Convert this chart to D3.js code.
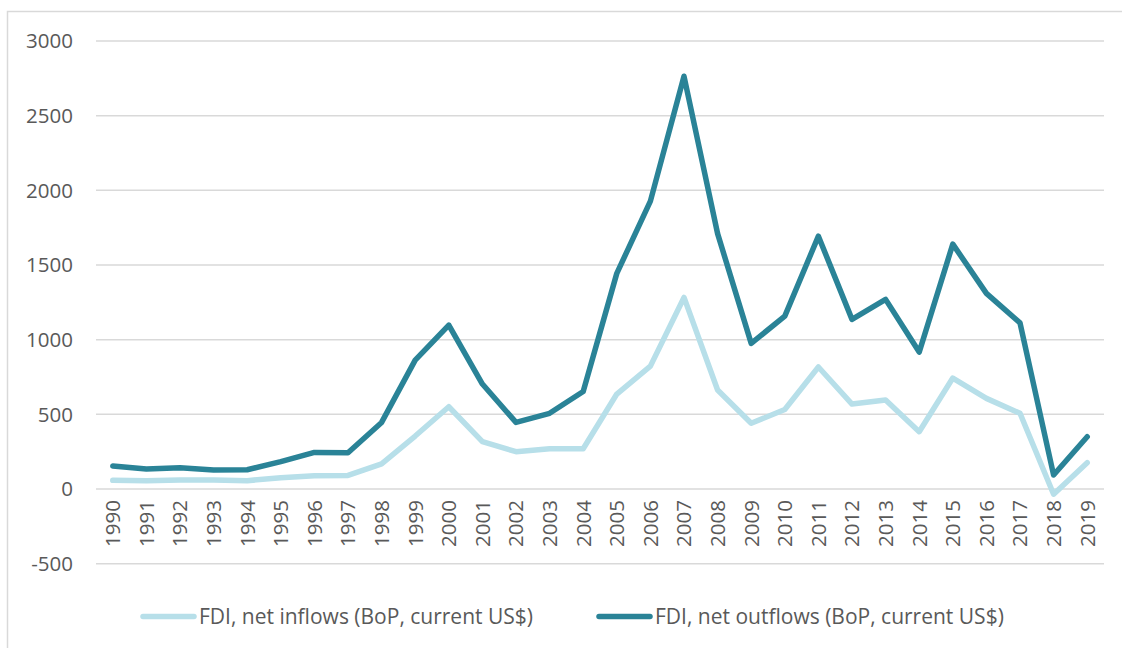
<!DOCTYPE html>
<html>
<head>
<meta charset="utf-8">
<script src="https://cdn.jsdelivr.net/npm/d3@7"></script>
<style>
  html, body { margin: 0; padding: 0; background: #fff; }
  svg { display: block; }
  text { font-family: "Open Sans", "Noto Sans", sans-serif; fill: #595959; }
</style>
</head>
<body>
<svg id="chart" width="1122" height="648"></svg>
<script>
// FDI flows, 1990-2019 (current US$, millions)
const years = [1990, 1991, 1992, 1993, 1994, 1995, 1996, 1997, 1998, 1999,
               2000, 2001, 2002, 2003, 2004, 2005, 2006, 2007, 2008, 2009,
               2010, 2011, 2012, 2013, 2014, 2015, 2016, 2017, 2018, 2019];
const inflows  = [58, 56, 60, 60, 56, 76, 89, 91, 169, 355,
                  551, 317, 250, 270, 270, 636, 823, 1283, 663, 440,
                  533, 817, 569, 596, 384, 743, 607, 507, -35, 176];
const outflows = [154, 134, 143, 127, 129, 183, 245, 243, 446, 863,
                  1098, 703, 446, 507, 653, 1444, 1928, 2764, 1710, 975,
                  1158, 1693, 1136, 1270, 917, 1640, 1310, 1113, 94, 350];
const yTicks = [-500, 0, 500, 1000, 1500, 2000, 2500, 3000];
const seriesNames = ["FDI, net inflows (BoP, current US$)", "FDI, net outflows (BoP, current US$)"];
const seriesColors = ["#b7dfe9", "#2a8397"];

const svg = d3.select("#chart");

// outer frame
svg.append("rect")
  .attr("x", 7.5).attr("y", 11.5)
  .attr("width", 1200).attr("height", 700)
  .attr("fill", "none").attr("stroke", "#d9d9d9").attr("stroke-width", 1.5);

const plot = { left: 96, right: 1104 };
const x = d3.scaleBand().domain(years).range([plot.left, plot.right]);
const y = d3.scaleLinear().domain([-500, 3000]).range([563.7, 41]);

// horizontal gridlines
svg.append("g").selectAll("line").data(yTicks).join("line")
  .attr("x1", plot.left).attr("x2", plot.right)
  .attr("y1", d => y(d)).attr("y2", d => y(d))
  .attr("stroke", "#d9d9d9").attr("stroke-width", 1.5);

// y axis labels
svg.append("g").selectAll("text").data(yTicks).join("text")
  .attr("x", 73).attr("y", d => y(d))
  .attr("dy", "0.36em")
  .attr("text-anchor", "end")
  .style("font-size", "20.5px")
  .text(d => d);

// x axis labels, rotated
svg.append("g").selectAll("text").data(years).join("text")
  .attr("transform", d => `translate(${x(d) + x.bandwidth() / 2},${y(0) + 11}) rotate(-90)`)
  .attr("dy", "0.36em")
  .attr("text-anchor", "end")
  .style("font-size", "20.5px")
  .text(d => d);

const line = d3.line()
  .x((d, i) => x(years[i]) + x.bandwidth() / 2)
  .y(d => y(d));

[inflows, outflows].forEach((vals, k) => {
  svg.append("path")
    .datum(vals)
    .attr("d", line)
    .attr("fill", "none")
    .attr("stroke", seriesColors[k])
    .attr("stroke-width", 5.5)
    .attr("stroke-linejoin", "round")
    .attr("stroke-linecap", "round");
});

// legend
const legendItems = [
  { x: 143, name: seriesNames[0], color: seriesColors[0] },
  { x: 599, name: seriesNames[1], color: seriesColors[1] }
];
const lg = svg.append("g").selectAll("g").data(legendItems).join("g")
  .attr("transform", d => `translate(${d.x},616.5)`);
lg.append("line")
  .attr("x1", 0).attr("x2", 51)
  .attr("stroke", d => d.color).attr("stroke-width", 5.5)
  .attr("stroke-linecap", "round");
lg.append("text")
  .attr("x", 56).attr("dy", "0.36em")
  .style("font-size", "21px")
  .text(d => d.name);
</script>
</body>
</html>
